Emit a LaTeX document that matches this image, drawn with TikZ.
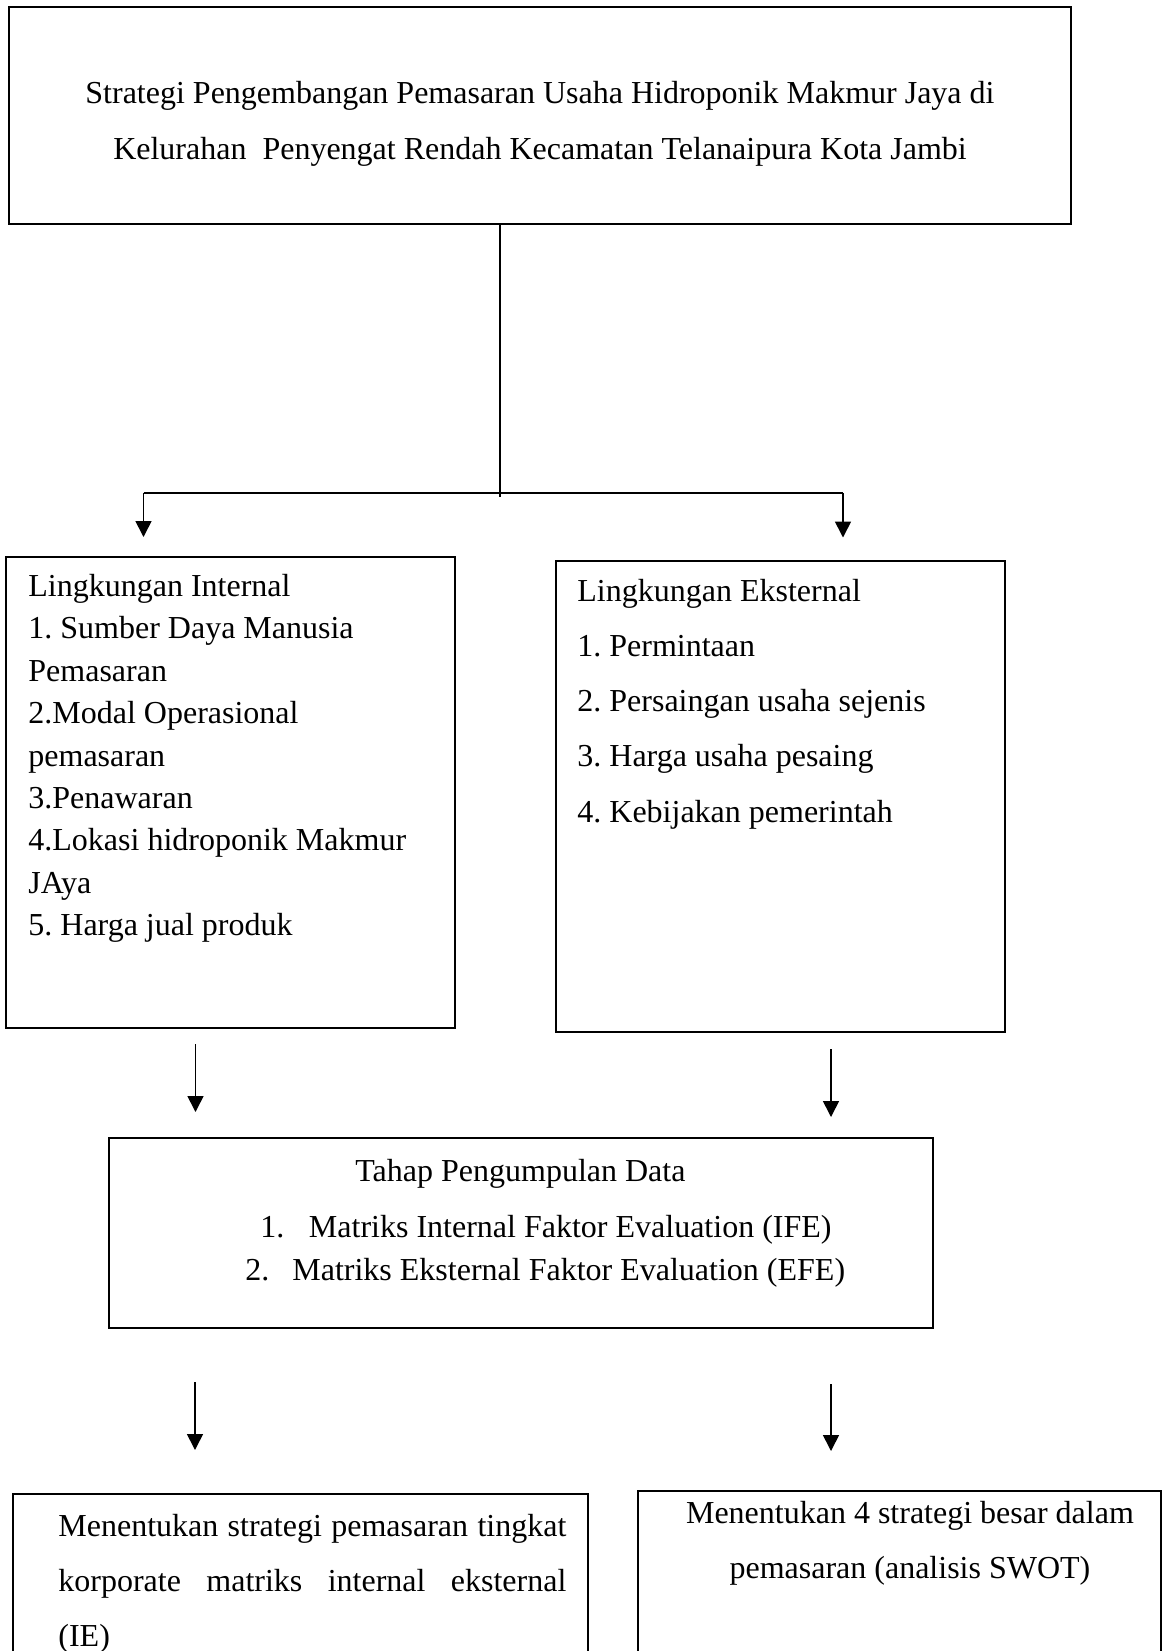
\documentclass[tikz,border=0pt]{standalone}
\usepackage{fontspec}
\setmainfont{Liberation Serif}
\usetikzlibrary{arrows.meta,fit}
\frenchspacing
\begin{document}
\begin{tikzpicture}[x=0.5pt,y=-0.5pt,
  box/.style={draw, line width=1pt, inner sep=0pt},
  txt/.style={inner sep=0pt, font=\fontsize{16}{19}\selectfont},
  arr/.style={line width=0.8pt, -{Triangle[length=8pt,width=8pt]}},
  link/.style={line width=0.65pt},
  bar/.style={line width=1.1pt}]
\useasboundingbox (0,0) rectangle (1167,1651);
\clip (0,0) rectangle (1167,1651);

% boxes
\node[box, fit={(9,7) (1071,224)}] (top) {};
\node[box, fit={(6,557) (455,1028)}] (internal) {};
\node[box, fit={(556,561) (1005,1032)}] (external) {};
\node[box, fit={(109,1138) (933,1328)}] (data) {};
\node[box, fit={(12.6,1494) (588,1720)}] (ie) {};
\node[box, fit={(637.5,1491) (1161,1720)}] (swot) {};

% texts
\node[txt, anchor=base] (title) at (540,103.5) {\parbox[t]{500pt}{\centering\fontsize{16}{27.75}\selectfont
  Strategi Pengembangan Pemasaran Usaha Hidroponik Makmur Jaya di\\
  Kelurahan~ Penyengat Rendah Kecamatan Telanaipura Kota Jambi}};

\node[txt, anchor=base west] (inttxt) at (28,596.5) {\parbox[t]{210pt}{\raggedright\fontsize{16}{21.2}\selectfont
  Lingkungan Internal\\
  1. Sumber Daya Manusia\\
  Pemasaran\\
  2.Modal Operasional\\
  pemasaran\\
  3.Penawaran\\
  4.Lokasi hidroponik Makmur\\
  JAya\\
  5. Harga jual produk}};

\node[txt, anchor=base west] (exttxt) at (577,601) {\parbox[t]{210pt}{\raggedright\fontsize{16}{27.65}\selectfont
  Lingkungan Eksternal\\
  1. Permintaan\\
  2. Persaingan usaha sejenis\\
  3. Harga usaha pesaing\\
  4. Kebijakan pemerintah}};

\node[txt, anchor=base west] (tahap) at (355,1181) {Tahap Pengumpulan Data};
\node[txt, anchor=base west] (ife) at (260,1237) {\makebox[24.3pt][l]{1.}Matriks Internal Faktor Evaluation (IFE)};
\node[txt, anchor=base west] (efe) at (245,1280) {\makebox[23.5pt][l]{2.}Matriks Eksternal Faktor Evaluation (EFE)};

\node[txt, anchor=base west] (ietxt) at (58,1536) {\parbox[t]{254pt}{\fontsize{16}{27.5}\selectfont
  \hbox to 254pt{Menentukan strategi pemasaran tingkat}\par
  \hbox to 254pt{korporate\hfill matriks\hfill internal\hfill eksternal}\par
  \noindent(IE)}};

\node[txt, anchor=base] (swottxt) at (910,1523) {\parbox[t]{260pt}{\centering\fontsize{16}{27.5}\selectfont
  Menentukan 4 strategi besar dalam\\
  pemasaran (analisis SWOT)}};

% connector coordinates
\coordinate (vtop) at (500,224);
\coordinate (vbot) at (500,497);
\coordinate (hl) at (143.5,492.8);
\coordinate (hr) at (843,492.8);
\coordinate (al) at (143.5,537);
\coordinate (ar) at (843,537.5);
\coordinate (b1s) at (195.5,1044);
\coordinate (b1e) at (195.5,1112);
\coordinate (b2s) at (831,1049);
\coordinate (b2e) at (831,1117);
\coordinate (c1s) at (195,1382);
\coordinate (c1e) at (195,1450);
\coordinate (c2s) at (831,1384);
\coordinate (c2e) at (831,1451);

% connectors
\draw[link] (vtop) -- (vbot);
\draw[bar] (hl) -- (hr);
\draw[arr] (hl) -- (al);
\draw[arr] (hr) -- (ar);
\draw[arr] (b1s) -- (b1e);
\draw[arr] (b2s) -- (b2e);
\draw[arr] (c1s) -- (c1e);
\draw[arr] (c2s) -- (c2e);
\end{tikzpicture}
\end{document}
